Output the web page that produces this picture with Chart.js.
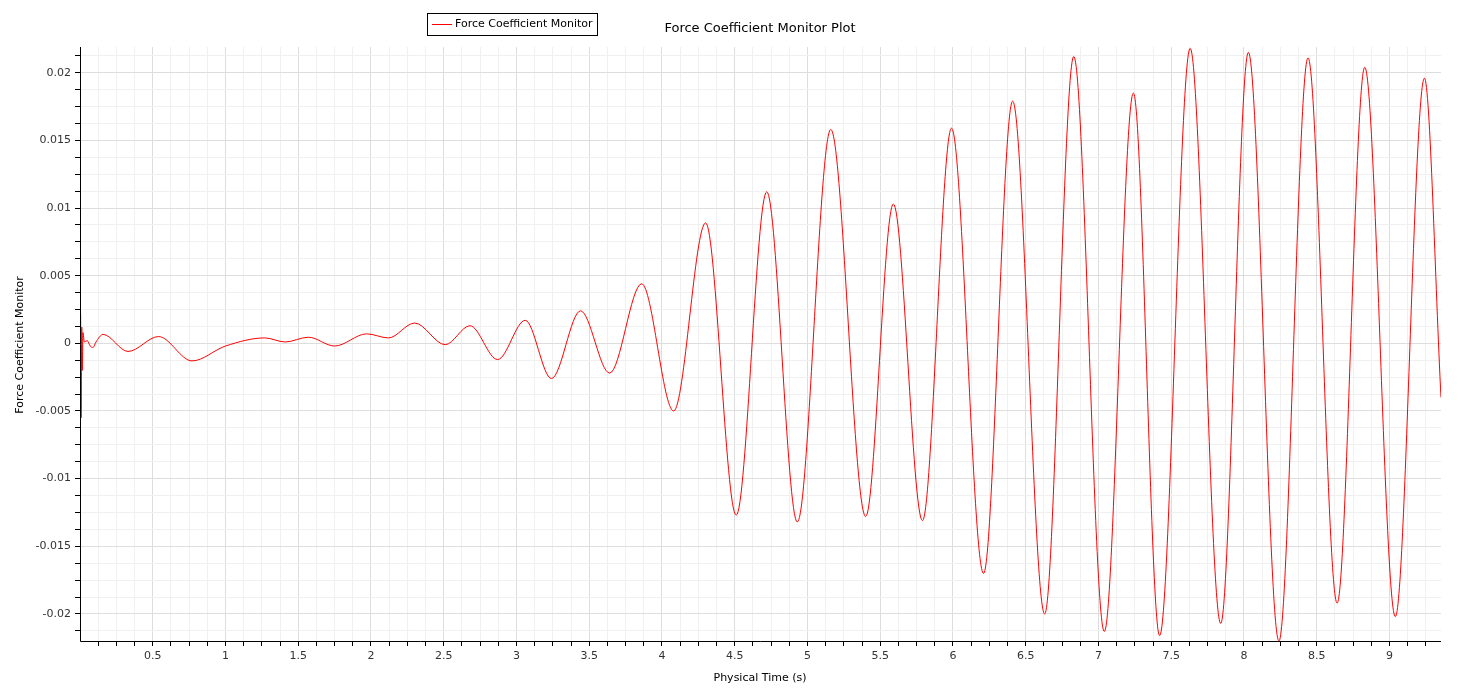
<!DOCTYPE html>
<html><head><meta charset="utf-8">
<script src="https://cdn.jsdelivr.net/npm/chart.js@4/dist/chart.umd.min.js"></script>
<style>html,body{margin:0;padding:0;background:#fff}#c{display:block}</style>
</head><body>
<div style="width:1476px;height:696px"><canvas id="c"></canvas></div>
<script>
const times = [0,0.004,0.008,0.012,0.016,0.02,0.03,0.05,0.07,0.09,0.11,0.158,0.33,0.54,0.77,1.0,1.27,1.41,1.57,1.75,1.97,2.12,2.30,2.51,2.68,2.87,3.06,3.24,3.44,3.64,3.86,4.08,4.30,4.51,4.72,4.93,5.16,5.40,5.59,5.79,5.99,6.21,6.41,6.63,6.83,7.04,7.24,7.42,7.63,7.84,8.03,8.24,8.44,8.64,8.83,9.04,9.24,9.354];
const values = [0,0.0022,-0.0055,0.0012,-0.002,0.0008,0.0001,0.0002,-0.0002,-0.0003,0.0001,0.00066,-0.0006,0.0005,-0.0013,-0.0002,0.0004,0.0001,0.00045,-0.0002,0.0007,0.0004,0.0015,-0.0001,0.0013,-0.0012,0.0017,-0.0026,0.0024,-0.0022,0.0044,-0.0050,0.0089,-0.0127,0.0112,-0.0132,0.0158,-0.0128,0.0103,-0.0131,0.0159,-0.0170,0.0179,-0.0200,0.0212,-0.0213,0.0185,-0.0216,0.0218,-0.0207,0.0215,-0.0220,0.0211,-0.0192,0.0204,-0.0202,0.0196,-0.0040];
const seriesName = "Force Coefficient Monitor";
const chartTitle = "Force Coefficient Monitor Plot";
const xTitle = "Physical Time (s)";
const yTitle = "Force Coefficient Monitor";

const FONT = "'DejaVu Sans', sans-serif";
const isMajor = (v, step) => Math.abs(v/step - Math.round(v/step)) < 1e-6;
const fmt = v => { const r = Math.round(v*1e6)/1e6; return r === 0 ? '0' : String(r); };

const deco = {
  id: 'deco',
  afterDraw(chart) {
    const ctx = chart.ctx, a = chart.chartArea;
    ctx.save();
    ctx.fillStyle = '#000';
    ctx.font = "13px " + FONT;
    ctx.textAlign = 'center'; ctx.textBaseline = 'middle';
    ctx.fillText(chartTitle, 760, 29);
    ctx.font = "11px " + FONT;
    ctx.fillText(xTitle, 760, 678);
    ctx.save(); ctx.translate(20, 345); ctx.rotate(-Math.PI/2);
    ctx.fillText(yTitle, 0, 0); ctx.restore();
    // legend
    ctx.strokeStyle = '#000'; ctx.lineWidth = 1;
    ctx.strokeRect(427.5, 13.5, 170, 22);
    ctx.strokeStyle = 'red';
    ctx.beginPath(); ctx.moveTo(432, 24.5); ctx.lineTo(452, 24.5); ctx.stroke();
    ctx.textAlign = 'left'; ctx.fillStyle = '#000';
    ctx.fillText(seriesName, 455, 24.5);
    // axis lines
    ctx.strokeStyle = '#000';
    ctx.beginPath(); ctx.moveTo(a.left+0.5, a.top); ctx.lineTo(a.left+0.5, a.bottom+0.5); ctx.lineTo(a.right, a.bottom+0.5); ctx.stroke();
    ctx.restore();
  }
};

new Chart(document.getElementById('c'), {
  type: 'line',
  data: { datasets: [{ data: times.map((t,i)=>({x:t,y:values[i]})), borderColor: 'red', borderWidth: 1, pointRadius: 0, cubicInterpolationMode: 'monotone', fill: false }] },
  options: {
    responsive: true, maintainAspectRatio: false, animation: false,
    layout: { padding: { left: 0, top: 47, right: 35, bottom: 0 } },
    plugins: { legend: { display: false }, tooltip: { enabled: false } },
    scales: {
      x: {
        type: 'linear', min: 0, max: 9.354,
        afterFit(s) { s.height = 55; },
        afterBuildTicks(s) { const t=[]; for (let v=0.125; v<=9.354; v+=0.125) t.push({value: Math.round(v*1000)/1000}); s.ticks = t; },
        border: { display: false },
        grid: { color: c => isMajor(c.tick.value,0.5) ? '#dddddd' : '#f0f0f0', tickColor: '#000', tickLength: 5, drawTicks: true },
        ticks: { autoSkip: false, maxRotation: 0, color: '#333', font: { family: FONT, size: 11 }, callback: v => isMajor(v,0.5) ? fmt(v) : '', padding: 4 }
      },
      y: {
        type: 'linear', min: -0.022, max: 0.0219,
        afterFit(s) { s.width = 80; },
        afterBuildTicks(s) { const t=[]; for (let k=-17; k<=17; k++) t.push({value: Math.round(k*0.00125*1e6)/1e6}); s.ticks = t; },
        border: { display: false },
        grid: { color: c => isMajor(c.tick.value,0.005) ? '#dddddd' : '#f0f0f0', tickColor: '#000', tickLength: 5 },
        ticks: { autoSkip: false, color: '#333', font: { family: FONT, size: 11 }, callback: v => isMajor(v,0.005) ? fmt(v) : '', padding: 4 }
      }
    }
  },
  plugins: [deco]
});
</script>
</body></html>
